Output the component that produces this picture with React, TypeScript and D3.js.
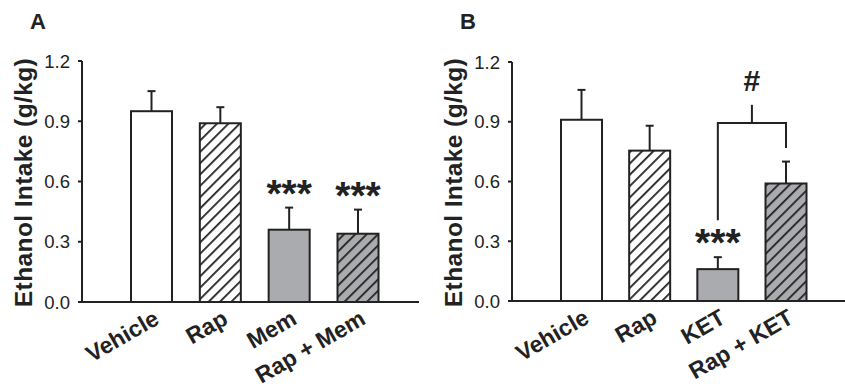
import React from 'react';
import * as d3 from 'd3';

// panel A data
const catsA = ['Vehicle', 'Rap', 'Mem', 'Rap + Mem'];
const meanA = [0.95, 0.89, 0.36, 0.34];
const semA = [0.1, 0.08, 0.11, 0.12];
const starsA = ['', '', '***', '***'];

// panel B data
const catsB = ['Vehicle', 'Rap', 'KET', 'Rap + KET'];
const meanB = [0.91, 0.755, 0.16, 0.59];
const semB = [0.15, 0.125, 0.06, 0.11];
const starsB = ['', '', '***', ''];

// fill style per group: plain, hatched, gray, gray hatched
const fills = ['#ffffff', 'url(#hatchWhite)', '#a9abae', 'url(#hatchGray)'];

const yTicks = [0, 0.3, 0.6, 0.9, 1.2];
const yTitle = 'Ethanol Intake (g/kg)';

// bracket in panel B: KET vs Rap + KET
const bracketB = { from: 'KET', to: 'Rap + KET', y: 0.894, leftEnd: 0.405, rightEnd: 0.768, top: 0.985, label: '#' };

const INK = '#222';
const FONT = 'Liberation Sans, Arial, Helvetica, sans-serif';

type PanelProps = {
  letter: string;
  cats: string[];
  means: number[];
  sems: number[];
  stars: string[];
  axisX: number;
  xRange: [number, number];
  yRange: [number, number];
  axisEnd: number;
  bracket?: typeof bracketB;
};

function Panel({ letter, cats, means, sems, stars, axisX, xRange, yRange, axisEnd, bracket }: PanelProps) {
  const x = d3.scalePoint<string>().domain(cats).range(xRange);
  const y = d3.scaleLinear().domain([0, 1.2]).range(yRange);
  const barW = 41;
  const y0 = y(0);

  return (
    <g fontFamily={FONT}>
      <text x={axisX - 52} y={29} fontSize={22} fontWeight="bold" fill={INK}>{letter}</text>

      {/* y axis title */}
      <text
        transform={`translate(${axisX - 50},${(y(0) + y(1.2)) / 2 + 1}) rotate(-90)`}
        textAnchor="middle"
        fontSize={24.5}
        fontWeight="bold"
        letterSpacing={0.4}
        fill={INK}
      >{yTitle}</text>

      {/* bars */}
      {cats.map((c, i) => (
        <g key={c}>
          <line x1={x(c)!} x2={x(c)!} y1={y(means[i])} y2={y(means[i] + sems[i])} stroke={INK} strokeWidth={2} />
          <line x1={x(c)! - 4} x2={x(c)! + 4} y1={y(means[i] + sems[i])} y2={y(means[i] + sems[i])} stroke={INK} strokeWidth={2} />
          <rect
            x={x(c)! - barW / 2}
            y={y(means[i])}
            width={barW}
            height={y0 - y(means[i])}
            fill={fills[i]}
            stroke={INK}
            strokeWidth={2}
          />
          {stars[i] && (
            <text x={x(c)!} y={y(means[i] + sems[i]) - 1} textAnchor="middle" fontSize={39} fontWeight="bold" fill={INK}>
              {stars[i]}
            </text>
          )}
          <text
            transform={`translate(${x(c)! + 9},${y0 + 21}) rotate(-30)`}
            textAnchor="end"
            fontSize={23}
            fontWeight="bold"
            fill={INK}
          >{c}</text>
        </g>
      ))}

      {/* axes */}
      <line x1={axisX} x2={axisX} y1={y(1.2)} y2={y0} stroke={INK} strokeWidth={2} />
      <line x1={axisX - 4} x2={axisEnd} y1={y0} y2={y0} stroke={INK} strokeWidth={2} />
      {yTicks.map(t => (
        <g key={t}>
          <line x1={axisX - 4} x2={axisX} y1={y(t)} y2={y(t)} stroke={INK} strokeWidth={2} />
          <text x={axisX - 12} y={y(t)} dy="0.36em" textAnchor="end" fontSize={18.5} fill={INK}>{t.toFixed(1)}</text>
        </g>
      ))}

      {bracket && (() => {
        const xa = x(bracket.from)!;
        const xb = x(bracket.to)!;
        const xm = (xa + xb) / 2;
        return (
          <g fill="none" stroke={INK} strokeWidth={2}>
            <path d={`M${xa},${y(bracket.leftEnd)}V${y(bracket.y)}H${xb}V${y(bracket.rightEnd)}`} />
            <line x1={xm} x2={xm} y1={y(bracket.y)} y2={y(bracket.top)} />
            <text x={xm} y={91} textAnchor="middle" fontSize={30} fontWeight="bold" fill={INK} stroke="none">{bracket.label}</text>
          </g>
        );
      })()}
    </g>
  );
}

export default function App() {
  return (
    <div style={{ position: 'absolute', left: 0, top: 0 }}>
      <svg width={845} height={390} style={{ display: 'block', background: '#fff' }}>
        <defs>
          <pattern id="hatchWhite" patternUnits="userSpaceOnUse" width={8} height={8} patternTransform="rotate(45)">
            <rect width={8} height={8} fill="#fff" />
            <line x1={0} y1={0} x2={0} y2={8} stroke={INK} strokeWidth={3.6} />
          </pattern>
          <pattern id="hatchGray" patternUnits="userSpaceOnUse" width={8} height={8} patternTransform="rotate(45)">
            <rect width={8} height={8} fill="#a9abae" />
            <line x1={0} y1={0} x2={0} y2={8} stroke={INK} strokeWidth={3.6} />
          </pattern>
        </defs>
        <Panel
          letter="A"
          cats={catsA}
          means={meanA}
          sems={semA}
          stars={starsA}
          axisX={82}
          xRange={[151.5, 358]}
          yRange={[302, 61]}
          axisEnd={419}
        />
        <Panel
          letter="B"
          cats={catsB}
          means={meanB}
          sems={semB}
          stars={starsB}
          axisX={512}
          xRange={[581.5, 786]}
          yRange={[301, 62]}
          axisEnd={845}
          bracket={bracketB}
        />
      </svg>
    </div>
  );
}
